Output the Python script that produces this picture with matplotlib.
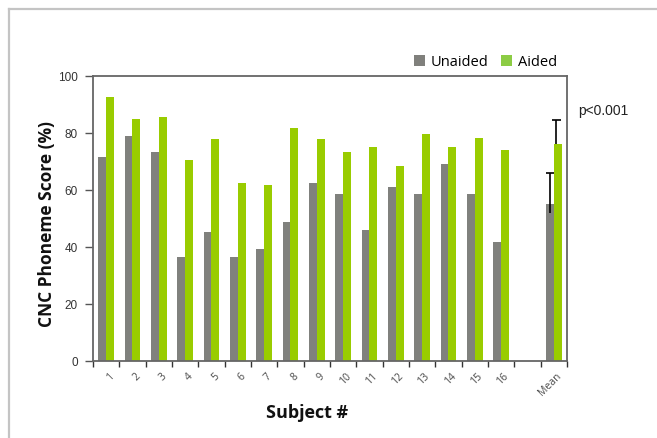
import matplotlib
matplotlib.use("Agg")
import matplotlib.pyplot as plt
from matplotlib.patches import Patch
from matplotlib.lines import Line2D
import numpy as np

# Per-subject CNC phoneme scores (%)
subjects = ["1", "2", "3", "4", "5", "6", "7", "8", "9", "10",
            "11", "12", "13", "14", "15", "16"]
unaided = [71.7, 79.1, 73.2, 36.5, 45.2, 36.5, 39.2, 48.6, 62.5, 58.6,
           45.9, 61.2, 58.6, 69.1, 58.6, 41.9]
aided = [92.5, 85.0, 85.7, 70.5, 77.8, 62.5, 61.8, 81.9, 77.8, 73.2,
         75.1, 68.5, 79.8, 75.1, 78.4, 73.9]

# Group means with error bars (lower, upper)
mean_unaided = 55.2
mean_aided = 76.1
err_unaided = (3.1, 10.7)
err_aided = (0.0, 8.6)

gray = "#80817d"
green = "#99cc00"

fig = plt.figure(figsize=(6.57, 4.39), dpi=100)
ax = fig.add_axes([93 / 657, 1 - 362 / 439, 474 / 657, 285 / 439])

n = len(subjects)
x = np.arange(n)
mean_pos = n + 1
w = 0.3

ax.bar(x - w / 2, unaided, width=w, color=gray, zorder=2)
ax.bar(x + w / 2, aided, width=w, color=green, zorder=2)
ax.bar(mean_pos - w / 2, mean_unaided, width=w, color=gray, zorder=2)
ax.bar(mean_pos + w / 2, mean_aided, width=w, color=green, zorder=2)


def error_whisker(xc, value, err, cap=0.32):
    lo, hi = value - err[0], value + err[1]
    ax.vlines(xc, lo, hi, color="black", lw=1.2, zorder=3)
    ax.hlines(hi, xc - cap / 2, xc + cap / 2, color="black", lw=1.2, zorder=3)


error_whisker(mean_pos - w / 2, mean_unaided, err_unaided)
error_whisker(mean_pos + w / 2 - 0.05, mean_aided, err_aided)

ax.set_xlim(-0.5, mean_pos + 0.5)
ax.set_ylim(0, 100)
ax.set_yticks(np.arange(0, 101, 20))
ax.set_xticks(np.arange(-0.5, mean_pos + 0.6, 1.0))
ax.set_xticklabels([])
ax.tick_params(axis="y", direction="out", length=6, width=1, color="#555555",
               labelsize=8.5, labelcolor="#333333", pad=5)
ax.tick_params(axis="x", direction="out", length=4, width=1, color="#333333")
for lab in ax.get_yticklabels():
    lab.set_family("Liberation Sans")

for s in ax.spines.values():
    s.set_color("#666666")
    s.set_linewidth(1.3)

# Rotated category labels at slot centres
tick_names = subjects + ["Mean"]
tick_pos = list(x) + [mean_pos]
for pos, name in zip(tick_pos, tick_names):
    ax.text(pos + 0.08, -3.2, name, rotation=45, ha="right", va="top",
            rotation_mode="anchor", fontsize=7.5, color="#4a4a4a",
            family="Open Sans")

fig.text(47 / 657, 1 - 224 / 439, "CNC Phoneme Score (%)", rotation=90,
         ha="center", va="center", fontsize=12.5, fontweight="bold",
         family="Open Sans", color="#111111")
fig.text(307 / 657, 1 - 413 / 439, "Subject #", ha="center", va="center",
         fontsize=13, fontweight="bold", family="Open Sans", color="#111111")
fig.text(578 / 657, 1 - 111 / 439, "p<0.001", ha="left", va="center",
         fontsize=10, family="Liberation Sans", color="#222222")

handles = [Patch(facecolor="#80807c", label="Unaided"),
           Patch(facecolor="#8ccc44", label="Aided")]
ax.legend(handles=handles, loc="center right", bbox_to_anchor=(0.995, 1.05),
          ncol=2, frameon=False, handlelength=0.75, handleheight=0.75,
          handletextpad=0.4, columnspacing=0.9, borderpad=0,
          prop={"family": "Open Sans", "size": 10.5})

# Light frame along the left and top of the figure
fig.add_artist(Line2D([8.5 / 657, 8.5 / 657], [0, 1 - 9.5 / 439],
                      transform=fig.transFigure, color="#c4c4c4", lw=1.6))
fig.add_artist(Line2D([8.5 / 657, 1], [1 - 9.5 / 439, 1 - 9.5 / 439],
                      transform=fig.transFigure, color="#c4c4c4", lw=1.6))

fig.savefig("out.png", dpi=100)
